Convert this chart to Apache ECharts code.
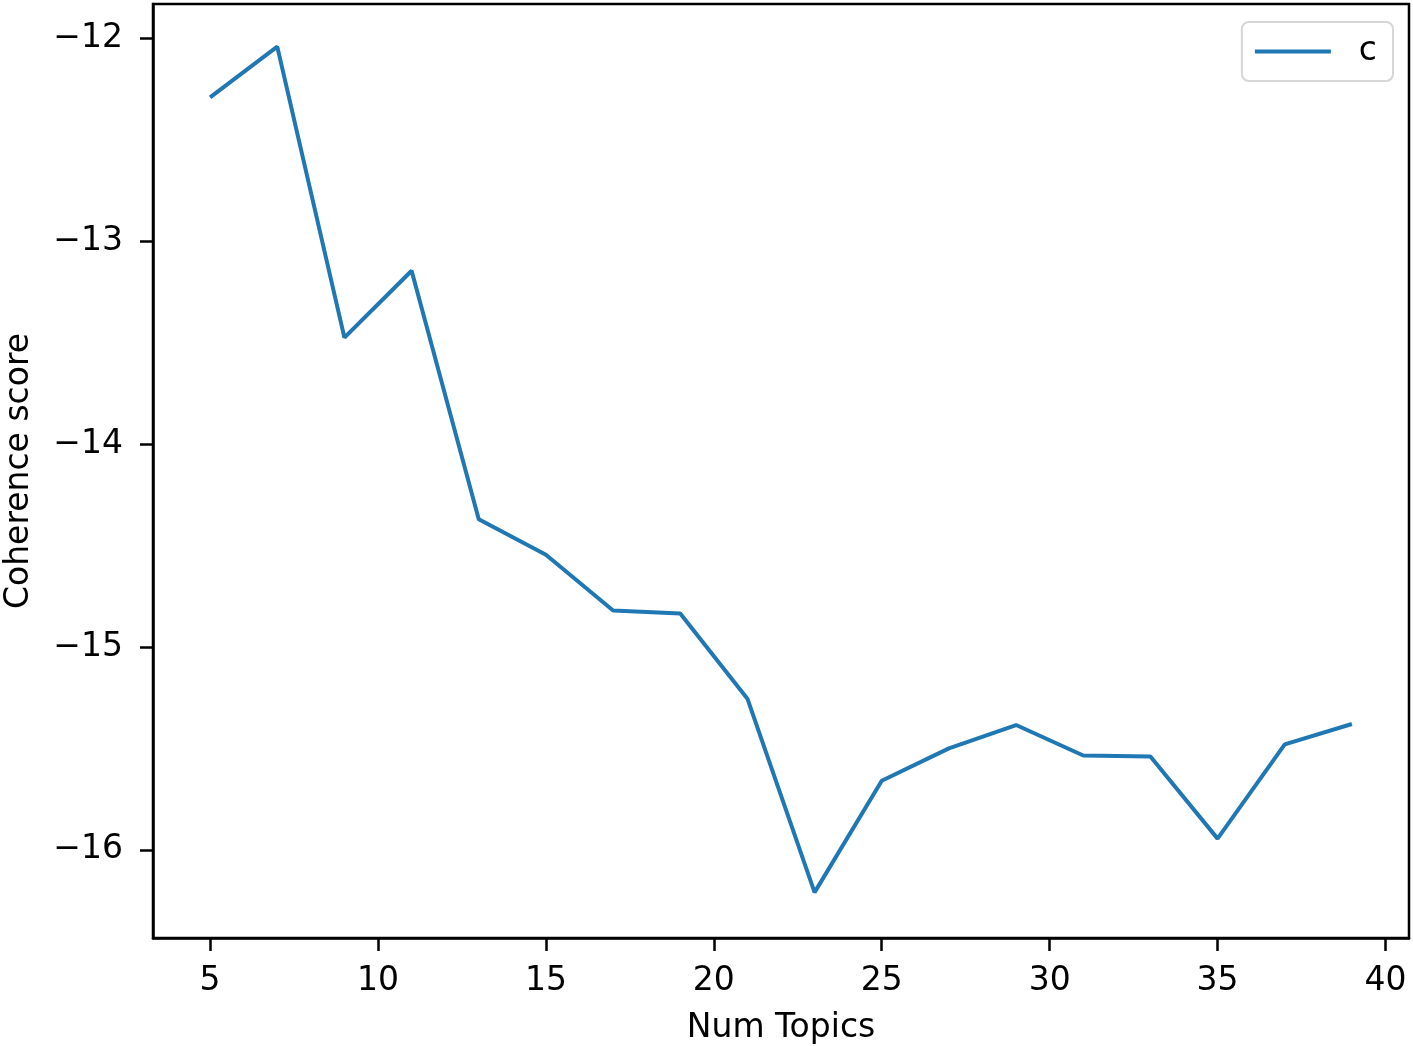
<!DOCTYPE html>
<html>
<head>
<meta charset="utf-8">
<script src="https://cdn.jsdelivr.net/npm/echarts@6/dist/echarts.min.js"></script>
<style>
html,body{margin:0;padding:0;background:#fff;}
#chart{width:1413px;height:1046px;}
</style>
</head>
<body>
<div id="chart"></div>
<script>
const numTopics = [5, 7, 9, 11, 13, 15, 17, 19, 21, 23, 25, 27, 29, 31, 33, 35, 37, 39];
const coherence = [-12.29, -12.04, -13.475, -13.145, -14.37, -14.545, -14.82, -14.835, -15.255, -16.21, -15.66, -15.50, -15.385, -15.535, -15.54, -15.945, -15.48, -15.38];
const xTicks = [5, 10, 15, 20, 25, 30, 35, 40];
const yTicks = [-16, -15, -14, -13, -12];
const seriesName = 'c';

const chart = echarts.init(document.getElementById('chart'), null, {renderer: 'canvas'});
const font = 'DejaVu Sans';
const minus = v => String(v).replace('-', '\u2212');
chart.setOption({
  animation: false,
  backgroundColor: '#fff',
  textStyle: {fontFamily: font},
  grid: {left: 153, right: 4, top: 4, bottom: 108, show: true, borderColor: '#000', borderWidth: 2.5, containLabel: false, outerBoundsMode: 'none'},
  legend: {
    data: [{name: seriesName, icon: 'rect'}],
    right: 20, top: 22,
    itemWidth: 76, itemHeight: 4, itemGap: 10,
    padding: [13, 16, 13, 13],
    borderColor: '#d6d6d6', borderWidth: 2, borderRadius: 7,
    backgroundColor: 'rgba(255,255,255,0.8)',
    textStyle: {fontFamily: font, fontSize: 33, color: '#000', padding: [0, 0, 0, 23]}
  },
  xAxis: {
    type: 'value', min: 3.3, max: 40.7,
    name: 'Num Topics', nameLocation: 'middle', nameGap: 74,
    nameTextStyle: {fontFamily: font, fontSize: 33, color: '#000'},
    axisLine: {show: true, lineStyle: {color: '#000', width: 2.5}},
    axisTick: {show: true, customValues: xTicks, length: 13, lineStyle: {color: '#000', width: 2.5}},
    axisLabel: {customValues: xTicks, margin: 27, fontFamily: font, fontSize: 33, color: '#000', formatter: minus},
    splitLine: {show: false}
  },
  yAxis: {
    type: 'value', min: -16.435, max: -11.83,
    name: 'Coherence score', nameLocation: 'middle', nameGap: 117, nameRotate: 90,
    nameTextStyle: {fontFamily: font, fontSize: 33, color: '#000'},
    axisLine: {show: true, lineStyle: {color: '#000', width: 2.5}},
    axisTick: {show: true, customValues: yTicks, length: 13, lineStyle: {color: '#000', width: 2.5}},
    axisLabel: {customValues: yTicks, margin: 30, fontFamily: font, fontSize: 33, color: '#000', formatter: minus},
    splitLine: {show: false}
  },
  series: [{
    name: seriesName, type: 'line', symbol: 'none',
    data: numTopics.map((x, i) => [x, coherence[i]]),
    lineStyle: {color: '#1f77b4', width: 4},
    itemStyle: {color: '#1f77b4'}
  }]
});
</script>
</body>
</html>
